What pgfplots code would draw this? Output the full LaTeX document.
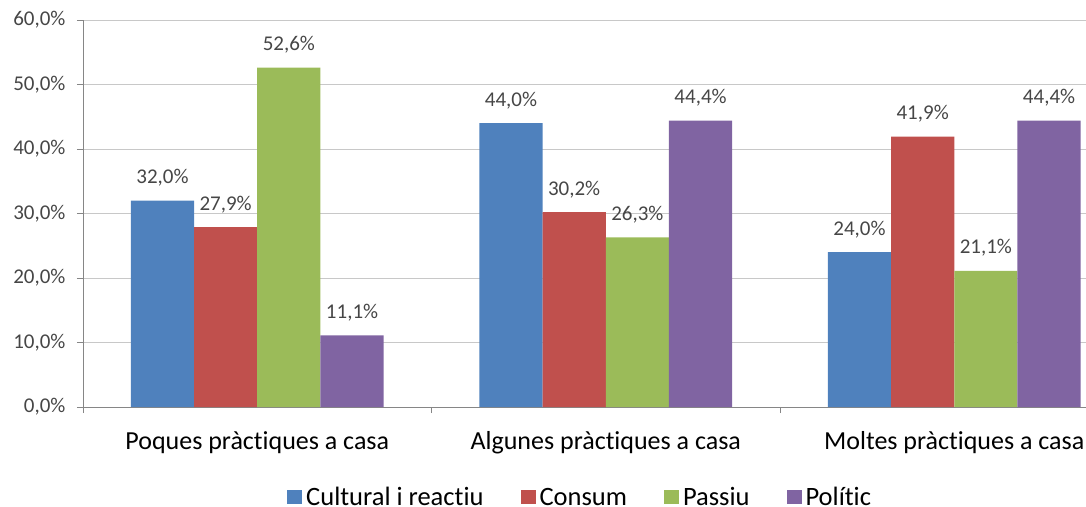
\documentclass[border=0pt]{standalone}
\usepackage{pgfplots}
\pgfplotsset{compat=1.18}
\usepackage{fontspec}
\setmainfont{Carlito}[Ligatures=CommonOff]

\definecolor{cblue}{RGB}{79,129,189}
\definecolor{cred}{RGB}{192,80,77}
\definecolor{cgreen}{RGB}{155,187,89}
\definecolor{cpurple}{RGB}{128,100,162}
\definecolor{axgray}{RGB}{134,134,134}
\definecolor{gridgray}{RGB}{200,200,200}
\definecolor{txt}{RGB}{70,70,70}

\begin{document}
\begin{tikzpicture}
\begin{axis}[
    scale only axis,
    width=1045.5pt, height=387pt,
    xmin=-0.5, xmax=2.5,
    ymin=0, ymax=60,
    ybar=0pt, bar width=63.2pt,
    axis x line=bottom, axis y line=left,
    axis line style={-, draw=axgray},
    tick align=outside, major tick length=6pt,
    tick style={draw=axgray},
    ymajorgrids, grid style={draw=gridgray},
    ytick={0,10,20,30,40,50,60},
    yticklabels={{0,0\%},{10,0\%},{20,0\%},{30,0\%},{40,0\%},{50,0\%},{60,0\%}},
    yticklabel style={font=\fontsize{21}{21}\selectfont, text=txt, xshift=-8pt},
    xtick={-0.5,0.5,1.5,2.5},
    xticklabels={},
    extra x ticks={0,1,2},
    extra x tick labels={Poques pràctiques a casa, Algunes pràctiques a casa, Moltes pràctiques a casa},
    extra x tick style={grid=none, tick style={draw=none},
        tick label style={font=\fontsize{26}{26}\selectfont, text=black, anchor=base, yshift=-36pt}},
    /pgf/number format/assume math mode=true,
    nodes near coords={\pgfmathprintnumber[fixed,fixed zerofill,precision=1,use comma]{\pgfplotspointmeta}\%},
    nodes near coords style={anchor=base, yshift=17pt, font=\fontsize{21}{21}\selectfont, text=txt},
    legend columns=4,
    legend style={draw=none, at={(0.4755,-0.233)}, anchor=center,
        font=\fontsize{26.5}{26.5}\selectfont,
        /tikz/every odd column/.append style={column sep=2pt},
        /tikz/every even column/.append style={column sep=35pt}},
    legend image code/.code={\fill[#1] (0pt,-6.5pt) rectangle (15pt,7pt);},
]
\coordinate (sw) at (rel axis cs:0,0);
\addplot[fill=cblue, draw=none] coordinates {(0,32.0) (1,44.0) (2,24.0)};
\addplot[fill=cred, draw=none] coordinates {(0,27.9) (1,30.2) (2,41.9)};
\addplot[fill=cgreen, draw=none] coordinates {(0,52.6) (1,26.3) (2,21.1)};
\addplot[fill=cpurple, draw=none] coordinates {(0,11.1) (1,44.4) (2,44.4)};
\legend{Cultural i reactiu, Consum, Passiu, Polític}
\end{axis}
\pgfresetboundingbox
\path[use as bounding box] ([shift={(-83pt,-99pt)}]sw) rectangle ++(1086pt,506pt);
\end{tikzpicture}
\end{document}
